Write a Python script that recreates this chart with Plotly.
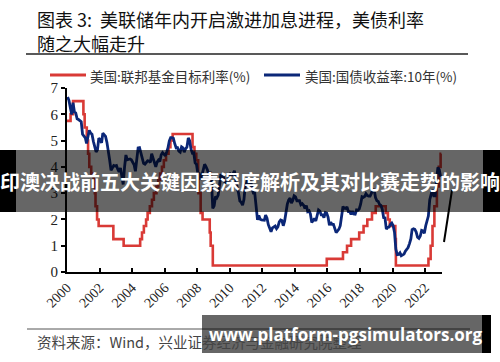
import plotly.graph_objects as go
import pandas as pd

# ---------------- data ----------------
fed_dates = ["2000-01-01", "2000-02-02", "2000-03-21", "2000-05-16", "2001-01-03", "2001-01-31",
             "2001-03-20", "2001-04-18", "2001-05-15", "2001-06-27", "2001-08-21", "2001-09-17",
             "2001-10-02", "2001-11-06", "2001-12-11", "2002-11-06", "2003-06-25", "2004-06-30",
             "2004-08-10", "2004-09-21", "2004-11-10", "2004-12-14", "2005-02-02", "2005-03-22",
             "2005-05-03", "2005-06-30", "2005-08-09", "2005-09-20", "2005-11-01", "2005-12-13",
             "2006-01-31", "2006-03-28", "2006-05-10", "2006-06-29", "2007-09-18", "2007-10-31",
             "2007-12-11", "2008-01-22", "2008-01-30", "2008-03-18", "2008-04-30", "2008-10-08",
             "2008-10-29", "2008-12-16", "2015-12-17", "2016-12-15", "2017-03-16", "2017-06-15",
             "2017-12-14", "2018-03-22", "2018-06-14", "2018-09-27", "2018-12-20", "2019-08-01",
             "2019-09-19", "2019-10-31", "2020-03-04", "2020-03-16", "2022-03-17", "2022-05-05",
             "2022-06-16", "2022-07-28", "2022-09-22", "2022-11-03", "2022-12-15", "2022-12-31"]
fed_rate = [5.75, 5.75, 6.0, 6.5, 6.0, 5.5,
            5.0, 4.5, 4.0, 3.75, 3.5, 3.0,
            2.5, 2.0, 1.75, 1.25, 1.0, 1.25,
            1.5, 1.75, 2.0, 2.25, 2.5, 2.75,
            3.0, 3.25, 3.5, 3.75, 4.0, 4.25,
            4.5, 4.75, 5.0, 5.25, 4.75, 4.5,
            4.25, 3.5, 3.0, 2.25, 2.0, 1.5,
            1.0, 0.25, 0.5, 0.75, 1.0, 1.25,
            1.5, 1.75, 2.0, 2.25, 2.5, 2.25,
            2.0, 1.75, 1.25, 0.25, 0.5, 1.0,
            1.75, 2.5, 3.25, 4.0, 4.5, 4.5]

y10_values = [
    6.66, 6.52, 6.26, 5.99, 6.44, 6.10, 6.05, 5.83, 5.80, 5.74, 5.72, 5.24,
    5.16, 5.10, 4.89, 5.14, 5.39, 5.28, 5.24, 4.97, 4.73, 4.57, 4.65, 5.09,
    5.04, 4.91, 5.28, 5.21, 5.16, 4.93, 4.65, 4.26, 3.87, 3.94, 4.05, 4.03,
    4.05, 3.90, 3.81, 3.96, 3.57, 3.33, 3.98, 4.45, 4.27, 4.29, 4.30, 4.27,
    4.15, 4.08, 3.83, 4.35, 4.72, 4.73, 4.50, 4.28, 4.13, 4.10, 4.19, 4.23,
    4.22, 4.17, 4.50, 4.34, 4.14, 4.00, 4.18, 4.26, 4.20, 4.46, 4.54, 4.47,
    4.42, 4.57, 4.72, 4.99, 5.11, 5.11, 5.09, 4.88, 4.72, 4.73, 4.60, 4.56,
    4.76, 4.72, 4.56, 4.69, 4.75, 5.10, 5.00, 4.67, 4.52, 4.53, 4.15, 4.10,
    3.74, 3.74, 3.51, 3.68, 3.88, 4.10, 4.01, 3.89, 3.69, 3.81, 3.53, 2.42,
    2.52, 2.87, 2.82, 2.93, 3.29, 3.72, 3.56, 3.59, 3.40, 3.39, 3.40, 3.59,
    3.73, 3.69, 3.73, 3.85, 3.42, 3.20, 3.01, 2.70, 2.65, 2.54, 2.76, 3.29,
    3.39, 3.58, 3.41, 3.46, 3.17, 3.00, 3.00, 2.30, 1.98, 2.15, 2.01, 1.98,
    1.97, 1.97, 2.17, 2.05, 1.80, 1.62, 1.53, 1.68, 1.72, 1.75, 1.65, 1.72,
    1.91, 1.98, 1.96, 1.76, 1.93, 2.30, 2.58, 2.74, 2.81, 2.62, 2.72, 2.90,
    2.86, 2.71, 2.72, 2.71, 2.56, 2.60, 2.54, 2.42, 2.53, 2.30, 2.33, 2.21,
    1.88, 1.98, 2.04, 1.94, 2.20, 2.36, 2.32, 2.17, 2.17, 2.07, 2.26, 2.24,
    2.09, 1.78, 1.89, 1.81, 1.81, 1.64, 1.50, 1.56, 1.63, 1.76, 2.14, 2.49,
    2.43, 2.42, 2.48, 2.30, 2.30, 2.19, 2.32, 2.21, 2.20, 2.36, 2.35, 2.40,
    2.58, 2.86, 2.84, 2.87, 2.98, 2.91, 2.89, 2.89, 3.00, 3.15, 3.12, 2.83,
    2.71, 2.68, 2.57, 2.53, 2.40, 2.07, 2.06, 1.63, 1.70, 1.71, 1.81, 1.86,
    1.76, 1.50, 0.87, 0.66, 0.67, 0.73, 0.62, 0.65, 0.68, 0.79, 0.87, 0.93,
    1.08, 1.26, 1.61, 1.64, 1.62, 1.52, 1.32, 1.28, 1.37, 1.58, 1.56, 1.47,
    1.76, 1.93, 2.13, 2.75, 2.90, 3.14, 2.90, 2.90, 3.52, 3.98, 3.89, 3.62,
]
y10_dates = pd.date_range(start="2000-01-01", periods=len(y10_values), freq="MS") + pd.Timedelta(days=14)

tick_years = ["2000", "2002", "2004", "2006", "2008", "2010", "2012",
              "2014", "2016", "2018", "2020", "2022"]
y_ticks = [0, 1, 2, 3, 4, 5, 6, 7]

name_fed = "美国:联邦基金目标利率(%)"
name_y10 = "美国:国债收益率:10年(%)"
title_l1 = "图表 3:  美联储年内开启激进加息进程，美债利率"
title_l2 = "随之大幅走升"
source_text = "资料来源：Wind，兴业证券经济与金融研究院整理"
banner_text = "印澳决战前五大关键因素深度解析及其对比赛走势的影响"
site_text = "www.platform-pgsimulators.org"

RED = "#d93a36"
BLUE = "#0b2778"

# ---------------- layout geometry (pixels) ----------------
W, H = 500, 362
L, R, T, B = 67, 442, 88, 272


def px(x):
    return (x - L) / (R - L)


def py(y):
    return (B - y) / (B - T)


SERIF = "Liberation Serif, Times New Roman, serif"
CJK = "Noto Sans CJK SC, sans-serif"

fig = go.Figure()
fig.add_trace(go.Scatter(x=fed_dates, y=fed_rate, mode="lines", name=name_fed,
                         line=dict(color=RED, width=2.6, shape="hv")))
fig.add_trace(go.Scatter(x=y10_dates, y=y10_values, mode="lines", name=name_y10,
                         line=dict(color=BLUE, width=2.8)))

fig.update_layout(
    width=W, height=H,
    margin=dict(l=L, r=W - R, t=T, b=H - B, pad=0),
    paper_bgcolor="white", plot_bgcolor="white",
    showlegend=False,
    xaxis=dict(type="date", range=["2000-01-01", "2023-01-15"],
               tickvals=[f"{y}-01-01" for y in tick_years], ticktext=tick_years,
               tickangle=-45, ticks="inside", ticklen=4, tickwidth=1.5, tickcolor="black",
               showline=True, linecolor="black", linewidth=2, showgrid=False, zeroline=False,
               tickfont=dict(family=SERIF, size=14, color="#222")),
    yaxis=dict(range=[0, 7], tickvals=y_ticks, ticks="outside", ticklen=4, tickwidth=1.5,
               tickcolor="black", showline=True, linecolor="black", linewidth=2,
               showgrid=False, zeroline=False,
               tickfont=dict(family=SERIF, size=15, color="#222")),
)


def note(x, y, text, size, color, family=CJK, xanchor="left"):
    return dict(x=px(x), y=py(y), xref="paper", yref="paper", text=text, showarrow=False,
                xanchor=xanchor, yanchor="middle", font=dict(family=family, size=size, color=color))


def pline(x0, y0, x1, y1, color, width, layer="above"):
    return dict(type="line", xref="paper", yref="paper", x0=px(x0), x1=px(x1), y0=py(y0), y1=py(y1),
                line=dict(color=color, width=width), layer=layer)


def prect(x0, y0, x1, y1, fill):
    return dict(type="rect", xref="paper", yref="paper", x0=px(x0), x1=px(x1), y0=py(y1), y1=py(y0),
                fillcolor=fill, line=dict(width=0), layer="above")


annotations = [
    note(35, 19, title_l1, 18, "#111"),
    note(35, 43, title_l2, 18, "#111"),
    note(88, 76, name_fed, 13.5, "#333"),
    note(303, 76, name_y10, 13.5, "#333"),
    note(35, 341, source_text, 14.5, "#444"),
]
shapes = [
    pline(26, 54, 468, 54, "#222", 1.5),
    pline(27, 329, 470, 329, "#555", 1),
    # legend keys
    pline(50, 75, 86, 75, RED, 3),
    pline(264, 75, 300, 75, BLUE, 3),
    # stray black stroke at right
    pline(452, 190, 444, 242, "black", 2),
    # top banner
    prect(0, 150, 16, 212, "black"),
    prect(483, 150, 500, 212, "black"),
    prect(16, 150, 483, 212, "rgba(0,0,0,0.6)"),
    # bottom banner
    prect(202, 315, 482, 353, "rgba(0,0,0,0.6)"),
    prect(482, 315, 491, 353, "black"),
]
annotations += [
    note(250, 181, f"<b>{banner_text}</b>", 20, "white", xanchor="center"),
    note(346, 334, f"<b>{site_text}</b>", 17, "white", family="Open Sans, sans-serif", xanchor="center"),
]
fig.update_layout(annotations=annotations, shapes=shapes)

fig.write_html("out.html")
